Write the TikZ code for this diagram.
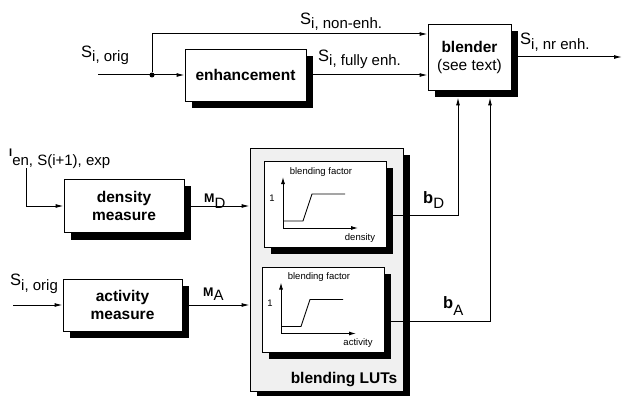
\documentclass[tikz,border=0pt]{standalone}
\usepackage{fontspec}
\setmainfont{Liberation Sans}
\usetikzlibrary{arrows.meta,positioning}
\newcommand{\subfnt}{\fontsize{15}{15}\selectfont}
\newcommand{\sig}[3][4pt]{#2\raisebox{-#1}{\subfnt #3}}
\tikzset{
  blk/.style={draw, fill=white, line width=0.9pt, inner sep=0pt, align=center, font=\fontsize{15.5}{18}\selectfont\bfseries},
  lutbox/.style={draw, fill=black!6, line width=0.9pt, inner sep=0pt},
  shadowfill/.style={fill=black, draw=none},
  arr/.style={-{Latex[length=8pt,width=4pt]}, line width=1pt},
  ax/.style={-{Latex[length=7pt,width=4pt]}, line width=0.9pt},
  curve/.style={line width=0.9pt},
  lbl/.style={font=\fontsize{16.5}{16}\selectfont, inner sep=0pt, anchor=base west},
  tinylbl/.style={font=\fontsize{9.5}{10}\selectfont, inner sep=0pt},
  dot/.style={circle, fill, inner sep=0pt, minimum size=5pt}
}
\begin{document}
\begin{tikzpicture}[x=1pt, y=-1pt]
  \useasboundingbox (0,0) rectangle (624,396);
  % blocks
  \node[blk, minimum width=121pt, minimum height=52pt] (enh) at (245.5,75) {enhancement};
  \node[blk, minimum width=83pt, minimum height=66pt] (blend) at (469.5,57) {{\bfseries blender}\\{\mdseries (see text)}};
  \node[blk, minimum width=120pt, minimum height=53pt] (dens) at (124,206) {density\\measure};
  \node[blk, minimum width=119pt, minimum height=52pt] (act) at (122.5,305) {activity\\measure};
  \node[lutbox, minimum width=153pt, minimum height=243pt] (luts) at (326.5,269.5) {};
  \node[blk, minimum width=122pt, minimum height=86pt] (lut1) at (325,204) {};
  \node[blk, minimum width=122pt, minimum height=85pt] (lut2) at (323,309.5) {};
  \node[font=\fontsize{15.5}{16}\selectfont\bfseries, inner sep=0pt, anchor=base east] (lutlbl) at ([xshift=-6pt,yshift=8pt]luts.south east) {blending LUTs};
  % shadows, right and bottom strips
  \foreach \nd in {enh, blend, dens, act, luts, lut1, lut2} {
    \fill[shadowfill] (\nd.north east) ++(0,7) rectangle ([shift={(7,7)}]\nd.south east);
    \fill[shadowfill] (\nd.south west) ++(7,0) rectangle ([shift={(7,7)}]\nd.south east);
  }
  % lookup curves
  \foreach \lut/\xlbl in {lut1/density, lut2/activity} {
    \begin{scope}[shift={(\lut.center)}]
      \draw[ax] (-42,24) -- (-42,-27);
      \draw[ax] (-42,24) -- (33,24);
      \draw[curve] (-42,17) -- (-22,17) -- (-13,-10) -- (20,-10);
      \node[tinylbl] (\lut-one) at (-53,-6) {1};
      \node[tinylbl] (\lut-ylbl) at (-4,-32) {blending factor};
      \node[tinylbl] (\lut-xlbl) at (35,34) {\xlbl};
    \end{scope}
  }
  % signals
  \coordinate (sin) at (98,75);
  \node[dot] (jn) at (152,75) {};
  \draw[arr] (sin) -- (enh);
  \draw[arr] (jn) |- ([yshift=23pt]blend.west);
  \draw[arr] (enh) -- (enh -| blend.west);
  \coordinate (sout) at (622,57);
  \draw[arr] (blend) -- (sout);
  \coordinate (ien) at (26,168);
  \draw[arr] (ien) |- (dens);
  \draw[arr] (dens) -- (dens -| luts.west);
  \coordinate (sact) at (13,305);
  \draw[arr] (sact) -- (act);
  \draw[arr] (act) -- (act -| luts.west);
  \coordinate (bd) at (458,215);
  \draw[arr] (lut1.east |- bd) -- (bd) -- ([yshift=-7pt]bd |- blend.south);
  \coordinate (ba) at (490,321);
  \draw[arr] (lut2.east |- ba) -- (ba) -- ([yshift=-7pt]ba |- blend.south);
  % labels
  \node[lbl] (lsorig) at (81,58) {\sig{S}{i, orig}};
  \node[lbl] (lsnon) at (300,25) {\sig{S}{i, non-enh.}};
  \node[lbl] (lsfull) at (318,62) {\sig{S}{i, fully enh.}};
  \node[lbl] (lsnr) at (520,45) {\sig[5pt]{S}{i, nr enh.}};
  \node[lbl] (lien) at (9,156) {\sig[9pt]{{\bfseries\fontsize{11}{11}\selectfont I}}{en, S(i+1), exp}};
  \node[lbl] (lsact) at (10,285) {\sig[5pt]{S}{i, orig}};
  \node[lbl] (lmd) at (204,202) {\sig[6pt]{{\bfseries\fontsize{12.5}{12.5}\selectfont M}}{D}};
  \node[lbl] (lma) at (203,296) {\sig[4pt]{{\bfseries\fontsize{12.5}{12.5}\selectfont M}}{A}};
  \node[lbl] (lbd) at (423,203) {\sig[5pt]{{\bfseries b}}{D}};
  \node[lbl] (lba) at (443,308) {\sig[7pt]{{\bfseries b}}{A}};
\end{tikzpicture}
\end{document}
